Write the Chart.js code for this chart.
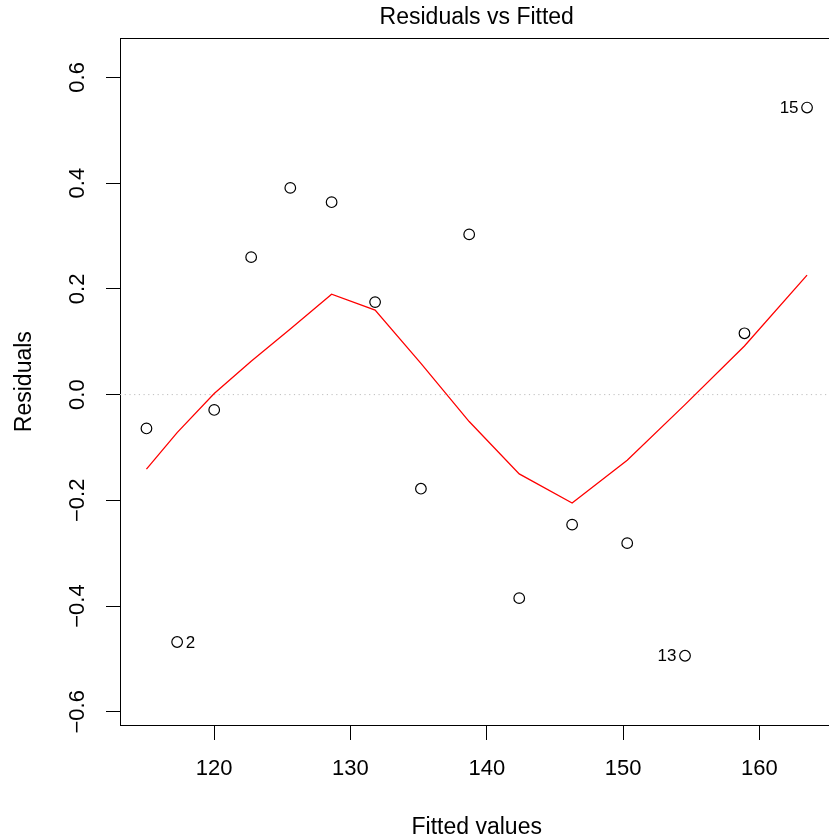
<!DOCTYPE html>
<html>
<head>
<meta charset="utf-8">
<title>Residuals vs Fitted</title>
<script src="https://cdn.jsdelivr.net/npm/chart.js@4.4.1/dist/chart.umd.min.js"></script>
<style>
  html, body { margin: 0; padding: 0; background: #fff; overflow: hidden; }
  #wrap { position: relative; width: 840px; height: 837px; }
</style>
</head>
<body>
<div id="wrap"><canvas id="residChart"></canvas></div>
<script>
// fitted values and residuals
const fittedValues = [115.04, 117.29, 120.01, 122.72, 125.59, 128.62, 131.81, 135.17, 138.71, 142.38, 146.26, 150.30, 154.54, 158.90, 163.49];
const residualValues = [-0.064, -0.468, -0.029, 0.260, 0.391, 0.364, 0.175, -0.178, 0.303, -0.385, -0.246, -0.281, -0.494, 0.116, 0.543];
// lowess smooth at each fitted value
const smoothValues = [-0.141, -0.072, 0.002, 0.063, 0.124, 0.190, 0.160, 0.059, -0.051, -0.150, -0.205, -0.124, -0.019, 0.092, 0.226];
// labelled observations (0-based index into the arrays above)
const idPoints = [1, 12, 14];
const idLabels = ['2', '13', '15'];
const xTicks = [120, 130, 140, 150, 160];
const yTicks = [-0.6, -0.4, -0.2, 0.0, 0.2, 0.4, 0.6];
const xLimits = [113.10, 165.43];
const yLimits = [-0.625, 0.674];

const FONT = '"Liberation Sans", Arial, Helvetica, sans-serif';
Chart.defaults.font.family = FONT;
Chart.defaults.color = '#000';

// R-style id labels next to the extreme points
const idLabelPlugin = {
    id: 'idLabels',
    afterDatasetsDraw(chart) {
        const meta = chart.getDatasetMeta(2);
        const ctx = chart.ctx;
        const mid = (Math.min(...fittedValues) + Math.max(...fittedValues)) / 2;
        ctx.save();
        ctx.font = '17px ' + FONT;
        ctx.fillStyle = '#000';
        ctx.textBaseline = 'middle';
        idPoints.forEach((i, k) => {
            const pt = meta.data[i];
            const right = fittedValues[i] <= mid;
            ctx.textAlign = right ? 'left' : 'right';
            ctx.fillText(idLabels[k], pt.x + (right ? 8.5 : -8.5), pt.y + 1);
        });
        ctx.restore();
    }
};

const axisBorder = { display: true, color: '#000', width: 1 };

new Chart(document.getElementById('residChart'), {
    type: 'scatter',
    data: {
        datasets: [
            {
                type: 'line',
                label: 'smooth',
                data: fittedValues.map((x, i) => ({ x: x, y: smoothValues[i] })),
                borderColor: '#ff0000',
                borderWidth: 1.3,
                pointRadius: 0,
                tension: 0,
                fill: false
            },
            {
                type: 'line',
                label: 'zero',
                data: [{ x: xLimits[0], y: 0 }, { x: xLimits[1], y: 0 }],
                borderColor: '#bebebe',
                borderWidth: 1,
                borderDash: [1.2, 3.5],
                pointRadius: 0,
                fill: false
            },
            {
                label: 'residuals',
                data: fittedValues.map((x, i) => ({ x: x, y: residualValues[i] })),
                pointStyle: 'circle',
                pointRadius: 5.3,
                borderColor: '#000',
                borderWidth: 1.2,
                backgroundColor: 'rgba(0,0,0,0)'
            }
        ]
    },
    options: {
        responsive: true,
        maintainAspectRatio: false,
        animation: false,
        layout: { padding: { left: 0, top: 0, bottom: 0, right: 3.7 } },
        plugins: {
            legend: { display: false },
            tooltip: { enabled: false }
        },
        scales: {
            x: {
                type: 'linear',
                position: 'bottom',
                min: xLimits[0],
                max: xLimits[1],
                bounds: 'data',
                afterBuildTicks: s => { s.ticks = xTicks.map(v => ({ value: v })); },
                afterFit: s => { s.height = 112; },
                grid: { drawOnChartArea: false, drawTicks: true, tickLength: 15, tickColor: '#000', tickWidth: 1 },
                border: axisBorder,
                ticks: { color: '#000', font: { size: 22 }, padding: 16, maxRotation: 0, autoSkip: false, callback: v => String(v) },
                title: { display: true, text: 'Fitted values', color: '#000', font: { size: 23, lineHeight: 1 }, padding: { top: 0, bottom: -2.5 } }
            },
            xTop: {
                type: 'linear',
                position: 'top',
                min: xLimits[0],
                max: xLimits[1],
                bounds: 'data',
                afterFit: s => { s.height = 38.3; },
                grid: { display: false, drawTicks: false },
                border: axisBorder,
                ticks: { display: false },
                title: { display: true, text: 'Residuals vs Fitted', color: '#000', font: { size: 23, lineHeight: 1 }, padding: { top: 6.5, bottom: 0 } }
            },
            y: {
                type: 'linear',
                position: 'left',
                min: yLimits[0],
                max: yLimits[1],
                bounds: 'data',
                afterBuildTicks: s => { s.ticks = yTicks.map(v => ({ value: v })); },
                afterFit: s => { s.width = 120; },
                grid: { drawOnChartArea: false, drawTicks: true, tickLength: 14, tickColor: '#000', tickWidth: 1 },
                border: axisBorder,
                ticks: {
                    color: '#000',
                    font: { size: 22 },
                    padding: 6,
                    minRotation: 90,
                    maxRotation: 90,
                    crossAlign: 'center',
                    autoSkip: false,
                    callback: v => v.toFixed(1).replace('-', '\u2212')
                },
                title: { display: true, text: 'Residuals', color: '#000', font: { size: 23, lineHeight: 1 }, padding: { top: 13.5, bottom: 0 } }
            }
        }
    },
    plugins: [idLabelPlugin]
});
</script>
</body>
</html>
